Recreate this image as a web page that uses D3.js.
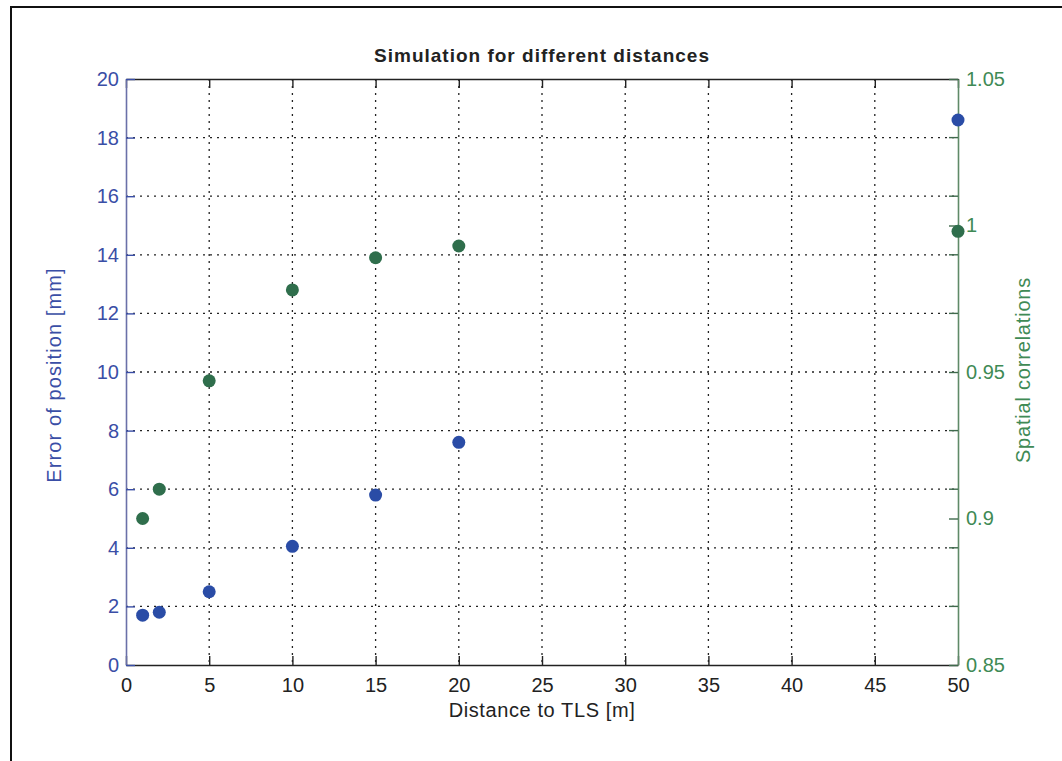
<!DOCTYPE html>
<html>
<head>
<meta charset="utf-8">
<script src="https://cdn.jsdelivr.net/npm/d3@7"></script>
<style>
  body { margin: 0; background: #fff; }
  text { font-family: "Liberation Sans", Arial, sans-serif; }
</style>
</head>
<body>
<script>
// Data
const distances = [1, 2, 5, 10, 15, 20, 50];
const positionError = [1.7, 1.8, 2.5, 4.05, 5.8, 7.6, 18.6];
const spatialCorr = [0.900, 0.910, 0.947, 0.978, 0.989, 0.993, 0.998];

const xTicks = [0, 5, 10, 15, 20, 25, 30, 35, 40, 45, 50];
const yLeftTicks = [0, 2, 4, 6, 8, 10, 12, 14, 16, 18, 20];
const yRightLabels = [0.85, 0.9, 0.95, 1, 1.05];
const yRightMinor = [0.87, 0.89, 0.91, 0.93, 0.97, 0.99, 1.01, 1.03];

const W = 1062, H = 761;
const margin = {top: 79, right: 104, bottom: 96, left: 126};
const width = W - margin.left - margin.right;
const height = H - margin.top - margin.bottom;

const blue = "#2a4ca6", green = "#2f6e4c";
const blueText = "#3a4ea6", greenText = "#3f8a55";
const tickFont = 20;

const svg = d3.select("body").append("svg")
    .attr("width", W)
    .attr("height", H);

// outer frame
svg.append("rect")
    .attr("x", 11).attr("y", 7)
    .attr("width", W).attr("height", H)
    .attr("fill", "none")
    .attr("stroke", "#111")
    .attr("stroke-width", 2);

const g = svg.append("g")
    .attr("transform", "translate(" + margin.left + "," + margin.top + ")");

const x = d3.scaleLinear().domain([0, 50]).range([0, width]);
const yL = d3.scaleLinear().domain([0, 20]).range([height, 0]);
const yR = d3.scaleLinear().domain([0.85, 1.05]).range([height, 0]);

// grid
const grid = g.append("g")
    .attr("stroke", "#222")
    .attr("stroke-width", 1.3)
    .attr("stroke-dasharray", "2,5");

grid.selectAll("line.vx")
    .data(xTicks.slice(1, -1))
    .join("line")
    .attr("x1", d => x(d)).attr("x2", d => x(d))
    .attr("y1", 0).attr("y2", height);

grid.selectAll("line.hy")
    .data(yLeftTicks.slice(1, -1))
    .join("line")
    .attr("x1", 0).attr("x2", width)
    .attr("y1", d => yL(d)).attr("y2", d => yL(d));

const styleTicks = (sel, color) => {
    sel.attr("font-size", tickFont)
        .attr("font-family", "Liberation Sans, Arial, sans-serif");
    sel.selectAll(".tick text").attr("fill", color);
}

// bottom and top axes
const xBottom = g.append("g")
    .attr("transform", "translate(0," + height + ")")
    .call(d3.axisBottom(x).tickValues(xTicks).tickSizeInner(-9).tickSizeOuter(0).tickPadding(13));
xBottom.select(".domain").attr("stroke", "#222").attr("stroke-width", 1.6);
xBottom.selectAll(".tick line").attr("stroke", "#222").attr("stroke-width", 1.4);
styleTicks(xBottom, "#222");

const xTop = g.append("g")
    .call(d3.axisTop(x).tickValues(xTicks).tickSizeInner(-9).tickSizeOuter(0).tickFormat(""));
xTop.select(".domain").attr("stroke", "#222").attr("stroke-width", 1.6);
xTop.selectAll(".tick line").attr("stroke", "#222").attr("stroke-width", 1.4);

// left axis
const yLeft = g.append("g")
    .call(d3.axisLeft(yL).tickValues(yLeftTicks).tickSizeInner(-9).tickSizeOuter(0).tickPadding(7));
yLeft.select(".domain").attr("stroke", "#6a70a8").attr("stroke-width", 1.6);
yLeft.selectAll(".tick line").attr("stroke", "#3a4ea6").attr("stroke-width", 1.4);
styleTicks(yLeft, blueText);

// right axis
const yRight = g.append("g")
    .attr("transform", "translate(" + width + ",0)")
    .call(d3.axisRight(yR).tickValues(yRightLabels).tickSizeInner(-9).tickSizeOuter(0).tickPadding(8)
        .tickFormat(d3.format("")));
yRight.select(".domain").attr("stroke", "#5f8a68").attr("stroke-width", 1.6);
yRight.selectAll(".tick line").attr("stroke", "#3f6a4c").attr("stroke-width", 1.4);
styleTicks(yRight, greenText);

g.append("g").selectAll("line")
    .data(yRightMinor)
    .join("line")
    .attr("x1", width - 9).attr("x2", width)
    .attr("y1", d => yR(d)).attr("y2", d => yR(d))
    .attr("stroke", "#3f6a4c")
    .attr("stroke-width", 1.4);

// points
g.append("g").selectAll("circle")
    .data(distances.map((d, i) => ({x: d, y: spatialCorr[i]})))
    .join("circle")
    .attr("cx", d => x(d.x))
    .attr("cy", d => yR(d.y))
    .attr("r", 6.5)
    .attr("fill", green);

g.append("g").selectAll("circle")
    .data(distances.map((d, i) => ({x: d, y: positionError[i]})))
    .join("circle")
    .attr("cx", d => x(d.x))
    .attr("cy", d => yL(d.y))
    .attr("r", 6.5)
    .attr("fill", blue);

// title and labels
svg.append("text")
    .attr("x", margin.left + width / 2)
    .attr("y", 62)
    .attr("text-anchor", "middle")
    .attr("font-size", 19)
    .attr("font-weight", "bold")
    .attr("letter-spacing", 1)
    .attr("fill", "#222")
    .text("Simulation for different distances");

svg.append("text")
    .attr("x", margin.left + width / 2)
    .attr("y", 717)
    .attr("text-anchor", "middle")
    .attr("font-size", 20)
    .attr("letter-spacing", 0.6)
    .attr("fill", "#222")
    .text("Distance to TLS [m]");

svg.append("text")
    .attr("transform", "translate(61,375) rotate(-90)")
    .attr("text-anchor", "middle")
    .attr("font-size", 20)
    .attr("letter-spacing", 1.1)
    .attr("fill", blueText)
    .text("Error of position [mm]");

svg.append("text")
    .attr("transform", "translate(1030,370) rotate(-90)")
    .attr("text-anchor", "middle")
    .attr("font-size", 20)
    .attr("letter-spacing", 0.8)
    .attr("fill", greenText)
    .text("Spatial correlations");
</script>
</body>
</html>
